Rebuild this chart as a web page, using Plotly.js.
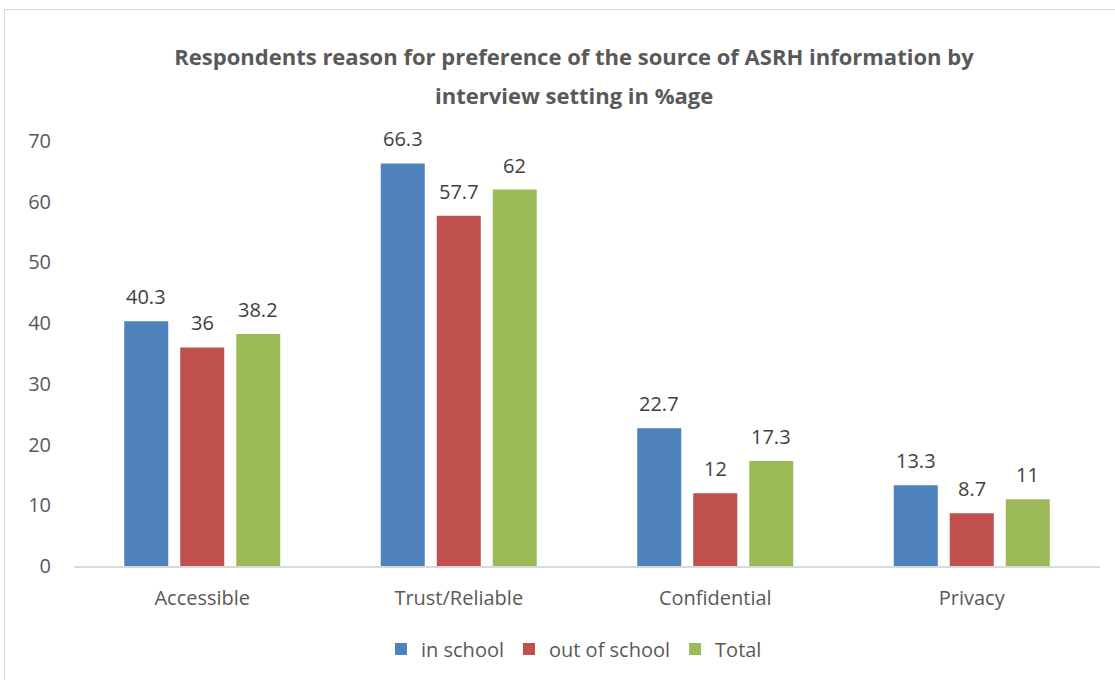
<!DOCTYPE html>
<html>
<head>
<meta charset="utf-8">
<script src="https://cdn.plot.ly/plotly-3.0.1.min.js"></script>
<style>
  html, body { margin: 0; padding: 0; background: #fff; overflow: hidden; }
  #frame { position: absolute; left: 4px; top: 9px; width: 1200px; height: 800px; border: 1px solid #d9d9d9; box-sizing: border-box; }
  #chart { position: absolute; left: 0; top: 0; width: 1115px; height: 680px; }
</style>
</head>
<body>
<div id="frame"></div>
<div id="chart"></div>
<script>
const categories = ["Accessible", "Trust/Reliable", "Confidential", "Privacy"];
const inSchool = [40.3, 66.3, 22.7, 13.3];
const outOfSchool = [36, 57.7, 12, 8.7];
const total = [38.2, 62, 17.3, 11];
const seriesNames = ["in school", "out of school", "Total"];
const seriesColors = ["#4F81BD", "#C0504D", "#9BBB59"];
const yTicks = [0, 10, 20, 30, 40, 50, 60, 70];
const titleLine1 = "Respondents reason for preference of the source of ASRH information by";
const titleLine2 = "interview setting in %age";

const font = "Open Sans, sans-serif";
const W = 1115, H = 680;
const mT = 141, mB = 114;
const plotH = H - mT - mB;
const values = [inSchool, outOfSchool, total];
const traces = values.map((v, i) => ({
  type: "bar",
  name: seriesNames[i],
  x: categories,
  y: v,
  marker: { color: seriesColors[i] },
  hoverinfo: "none"
}));

// data labels positioned via the axis scales, shifted per series within the group
const annotations = [];
values.forEach((v, i) => {
  v.forEach((val, j) => {
    annotations.push({
      x: categories[j], y: val, xref: "x", yref: "y",
      text: String(val), showarrow: false,
      xanchor: "center", yanchor: "bottom",
      xshift: (i - 1) * 56, yshift: 9,
      font: { family: font, size: 20, color: "#404040" }
    });
  });
});
// second title line
annotations.push({
  text: "<b>" + titleLine2 + "</b>", showarrow: false,
  xref: "paper", x: (574 - 74) / (1100 - 74), xanchor: "center",
  yref: "paper", y: (H - mB - 95) / plotH, yanchor: "middle",
  font: { family: font, size: 22, color: "#595959" }
});

const layout = {
  width: W,
  height: H,
  paper_bgcolor: "rgba(0,0,0,0)",
  plot_bgcolor: "rgba(0,0,0,0)",
  margin: { l: 74, r: 15, t: mT, b: mB },
  title: {
    text: "<b>" + titleLine1 + "</b>",
    font: { family: font, size: 22, color: "#595959" },
    x: 574 / W, xanchor: "center", xref: "container",
    y: 1 - 57 / H, yref: "container", yanchor: "middle"
  },
  annotations: annotations,
  barmode: "group",
  bargap: 0.345,
  bargroupgap: 0.214,
  xaxis: {
    showline: true, linecolor: "#d9d9d9", linewidth: 1.5,
    ticks: "", showgrid: false,
    tickfont: { family: font, size: 20, color: "#595959" },
    ticklabelstandoff: 13
  },
  yaxis: {
    range: [0, 70], tickvals: yTicks, showgrid: false, zeroline: false, showline: false,
    ticks: "",
    tickfont: { family: font, size: 20, color: "#595959" },
    ticklabelstandoff: 22
  },
  showlegend: true,
  legend: {
    orientation: "h",
    x: 574 / W, xanchor: "center", xref: "container",
    y: (H - 649) / H, yanchor: "middle", yref: "container",
    font: { family: font, size: 20, color: "#595959" },
    itemwidth: 30
  }
};

Plotly.newPlot("chart", traces, layout, { displayModeBar: false, staticPlot: true });
</script>
</body>
</html>
